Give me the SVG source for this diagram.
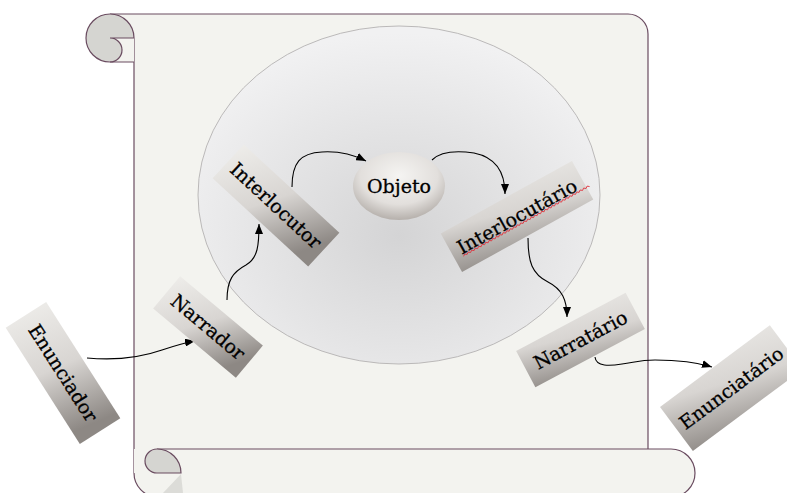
<svg xmlns="http://www.w3.org/2000/svg" width="787" height="493" viewBox="0 0 787 493">
  <style>
    .paper { fill: #f3f3ef; }
    .edge { fill: none; stroke: #6a4c60; stroke-width: 1.2; }
    .curl { fill: #d5d5d1; stroke: #6a4c60; stroke-width: 1.2; }
    .box { fill: url(#boxGrad); }
    .lbl { font-family: "DejaVu Serif", "Liberation Serif", serif; font-size: 19px; fill: #000; stroke: #000; stroke-width: 0.3; text-anchor: middle; }
    .conn { fill: none; stroke: #000; stroke-width: 1.1; marker-end: url(#arr); }
  </style>
  <defs>
    <linearGradient id="boxGrad" x1="0" y1="0" x2="0.35" y2="1">
      <stop offset="0" stop-color="#f1f0ed"/>
      <stop offset="0.55" stop-color="#d8d5d2"/>
      <stop offset="1" stop-color="#8d8884"/>
    </linearGradient>
    <radialGradient id="objGrad" cx="0.5" cy="0.35" r="0.7">
      <stop offset="0" stop-color="#f5f4f2"/>
      <stop offset="0.6" stop-color="#e2dfdc"/>
      <stop offset="1" stop-color="#aca6a1"/>
    </radialGradient>
    <radialGradient id="bigGrad" cx="0.5" cy="0.62" r="0.6">
      <stop offset="0" stop-color="#d4d4d5"/>
      <stop offset="1" stop-color="#f1f1f2"/>
    </radialGradient>
    <marker id="arr" viewBox="0 0 10 8" refX="10" refY="4" markerWidth="10" markerHeight="8" markerUnits="userSpaceOnUse" orient="auto">
      <path d="M0,0 L10,4 L0,8 Z" fill="#000"/>
    </marker>
  </defs>

  <rect x="0" y="0" width="787" height="493" fill="#ffffff"/>

  <g id="scroll">
    <path class="paper" d="M110,14 H628 A20,20 0 0 1 648,34 V460 H134 V38 Z"/>
    <path class="edge" d="M110,14 H628 A20,20 0 0 1 648,34 V449"/>
    <path class="edge" d="M134,38 V473"/>
    <circle cx="110" cy="38" r="24" fill="#d5d5d1"/>
    <path class="paper" d="M110,38 H134 V62 H110 A12,12 0 0 0 110,38 Z"/>
    <path class="edge" d="M134,38 A24,24 0 1 0 110,62 H134"/>
    <path class="edge" d="M110,38 H134 M110,38 A12,12 0 0 1 110,62"/>
    <path class="paper" d="M134,449 H671 A24,24 0 0 1 671,497 H157 A24,24 0 0 1 134,473 Z"/>
    <path class="edge" d="M157,449 H671 A24,24 0 0 1 671,497 H157 A24,24 0 0 1 134,473"/>
    <polygon points="163,493 181,474 183,493" fill="#dcdcd8"/>
    <path class="curl" d="M157,449 A12,12 0 0 0 157,473 H181 A24,24 0 0 0 157,449 Z"/>
  </g>

  <ellipse id="field" cx="399" cy="195" rx="201" ry="169" fill="url(#bigGrad)" stroke="#b4b2b2" stroke-width="0.9"/>

  <g id="connectors">
    <path class="conn" d="M87,358 C120,361 145,356 162,350 C174,346 183,343 195,341"/>
    <path class="conn" d="M227,300 C227,280 233,272 246,265 C258,258 259,245 259,224"/>
    <path class="conn" d="M292,187 C292,163 300,153 322,152 C338,151 352,154 366,161"/>
    <path class="conn" d="M432,160 C442,150 460,151 474,153 C494,157 505,170 505,194"/>
    <path class="conn" d="M528,238 C528,262 532,274 548,282 C562,289 567,300 567,317"/>
    <path class="conn" d="M595,357 C596,367 610,366 622,364 C636,362 640,360 655,360 C680,360 696,362 712,367"/>
  </g>

  <g id="enunciador">
    <polygon class="box" points="46.17,301.91 120.31,418.29 79.83,444.09 5.69,327.71"/>
    <text class="lbl" transform="translate(63,373) rotate(57.5)" dy="0.35em">Enunciador</text>
  </g>

  <g id="narrador">
    <polygon class="box" points="180.14,276.2 262.86,345.62 235.86,377.8 153.14,308.38"/>
    <text class="lbl" transform="translate(208,327) rotate(40)" dy="0.35em">Narrador</text>
  </g>

  <g id="interlocutor">
    <polygon class="box" points="243.83,144.52 339.37,232.68 308.17,266.48 212.63,178.32"/>
    <text class="lbl" transform="translate(276,205.5) rotate(42.7)" dy="0.35em">Interlocutor</text>
  </g>

  <g id="objeto">
    <ellipse cx="399" cy="186" rx="46" ry="34" fill="url(#objGrad)"/>
    <text class="lbl" x="399" y="186" dy="0.35em">Objeto</text>
  </g>

  <g id="interlocutario">
    <polygon class="box" points="440.73,233.62 571.93,160.9 593.27,199.38 462.07,272.1"/>
    <g transform="translate(517,216.5) rotate(-29)">
      <text class="lbl" dy="0.35em">Interlocutário</text>
      <path d="M-66,9 l2,-1.6 l2,1.6 l2,-1.6 l2,1.6 l2,-1.6 l2,1.6 l2,-1.6 l2,1.6 l2,-1.6 l2,1.6 l2,-1.6 l2,1.6 l2,-1.6 l2,1.6 l2,-1.6 l2,1.6 l2,-1.6 l2,1.6 l2,-1.6 l2,1.6 l2,-1.6 l2,1.6 l2,-1.6 l2,1.6 l2,-1.6 l2,1.6 l2,-1.6 l2,1.6 l2,-1.6 l2,1.6 l2,-1.6 l2,1.6 l2,-1.6 l2,1.6 l2,-1.6 l2,1.6 l2,-1.6 l2,1.6 l2,-1.6 l2,1.6 l2,-1.6 l2,1.6 l2,-1.6 l2,1.6 l2,-1.6 l2,1.6 l2,-1.6 l2,1.6 l2,-1.6 l2,1.6 l2,-1.6 l2,1.6 l2,-1.6 l2,1.6 l2,-1.6 l2,1.6 l2,-1.6 l2,1.6 l2,-1.6 l2,1.6 l2,-1.6 l2,1.6 l2,-1.6 l2,1.6 l2,-1.6 l2,1.6 l2,-1.6 l2,1.6 l2,-1.6 l2,1.6 l2,-1.6 l2,1.6" fill="none" stroke="#e0303a" stroke-width="0.8"/>
    </g>
  </g>

  <g id="narratario">
    <polygon class="box" points="516.14,351.01 625.62,292.79 644.86,328.99 535.38,387.21"/>
    <text class="lbl" transform="translate(580.5,340) rotate(-28)" dy="0.35em">Narratário</text>
  </g>

  <g id="enunciatario">
    <polygon class="box" points="660,407 769.85,325.13 802.72,369.23 692.87,451.1"/>
    <text class="lbl" transform="translate(731.35,388.11) rotate(-36.7)" dy="0.35em">Enunciatário</text>
  </g>
</svg>
